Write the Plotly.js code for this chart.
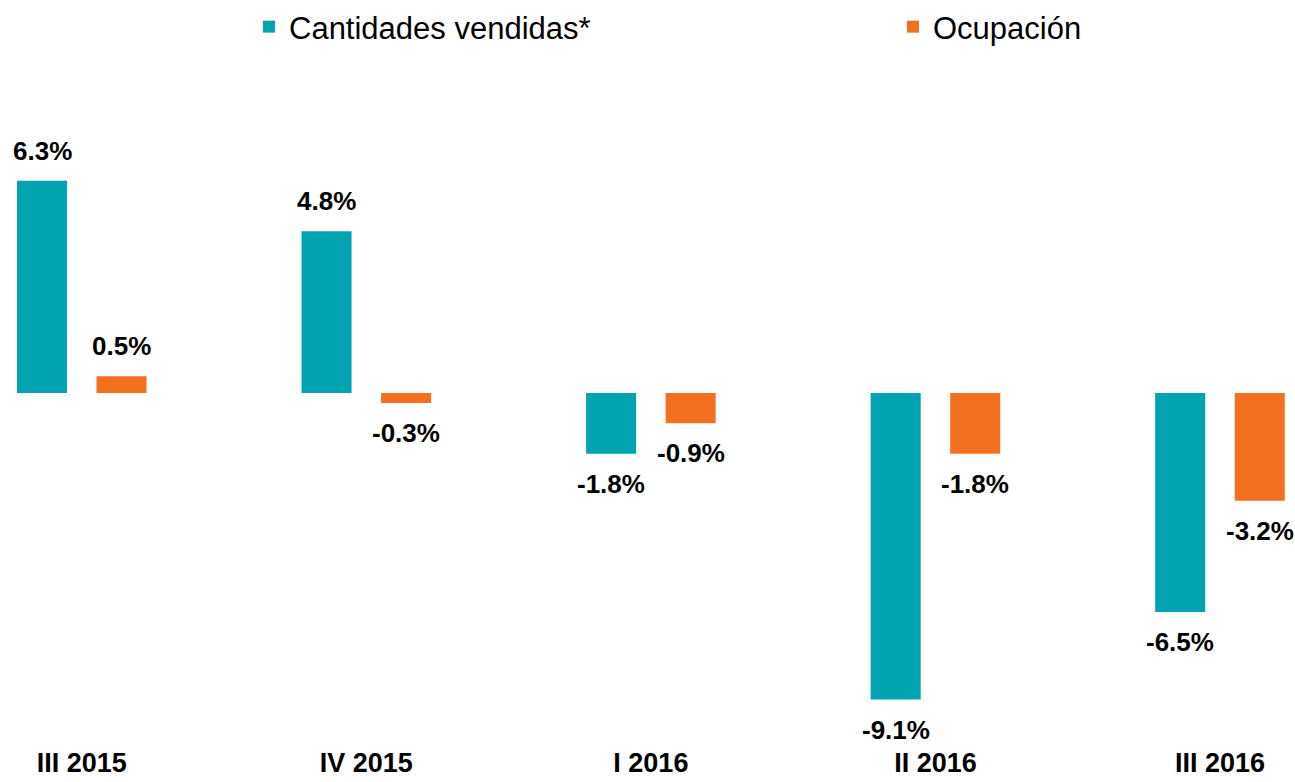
<!DOCTYPE html>
<html>
<head>
<meta charset="utf-8">
<script src="https://cdn.plot.ly/plotly-3.0.1.min.js"></script>
<style>html,body{margin:0;padding:0;background:#fff;}#chart{width:1295px;height:782px;}</style>
</head>
<body>
<div id="chart"></div>
<script>
var categories = ['III 2015', 'IV 2015', 'I 2016', 'II 2016', 'III 2016'];
var cantidadesVendidas = [6.3, 4.8, -1.8, -9.1, -6.5];
var ocupacion = [0.5, -0.3, -0.9, -1.8, -3.2];
var seriesNames = ['Cantidades vendidas*', 'Ocupación'];

var FONT = "'Liberation Sans', Arial, sans-serif";
var TEAL = '#00A3AF';
var ORANGE = '#F37021';

var traces = [
  {type: 'bar', name: seriesNames[0], x: categories, y: cantidadesVendidas,
   marker: {color: TEAL}, hoverinfo: 'skip', legend: 'legend'},
  {type: 'bar', name: seriesNames[1], x: categories, y: ocupacion,
   marker: {color: ORANGE}, hoverinfo: 'skip', legend: 'legend2'}
];

function fmt(v) { return v.toFixed(1) + '%'; }
var annotations = [];
[cantidadesVendidas, ocupacion].forEach(function (vals, s) {
  vals.forEach(function (v, i) {
    annotations.push({
      x: categories[i], y: v, xref: 'x', yref: 'y',
      text: '<b>' + fmt(v) + '</b>', showarrow: false,
      xshift: s === 0 ? -39.75 : 39.75,
      yshift: v >= 0 ? 30 : -30,
      yanchor: 'middle', xanchor: 'center',
      font: {family: FONT, size: 26, color: '#000'}
    });
  });
});

var legendBase = {
  orientation: 'h', xref: 'container', yref: 'container',
  y: 1, xanchor: 'left', yanchor: 'top',
  font: {family: FONT, size: 31, color: '#000'},
  bgcolor: 'rgba(0,0,0,0)'
};
var legend1 = Object.assign({}, legendBase, {x: 249 / 1295});
var legend2 = Object.assign({}, legendBase, {x: 893 / 1295});

var layout = {
  width: 1295, height: 782,
  margin: {l: 0, r: 0, t: 110, b: 42, pad: 0},
  paper_bgcolor: '#fff', plot_bgcolor: '#fff',
  barmode: 'group', bargap: 0.441, bargroupgap: 0.371,
  font: {family: FONT, color: '#000'},
  xaxis: {
    type: 'category', range: [-0.2873, 4.2636],
    showgrid: false, zeroline: false, showline: false, ticks: '',
    ticklabelstandoff: 4,
    tickfont: {family: FONT, size: 27, color: '#000', weight: 'bold'},
    fixedrange: true
  },
  yaxis: {
    range: [-10.30, 8.40], visible: false, showgrid: false, zeroline: false,
    fixedrange: true
  },
  showlegend: true,
  legend: legend1,
  legend2: legend2,
  annotations: annotations
};

Plotly.newPlot('chart', traces, layout, {displayModeBar: false, staticPlot: true});
</script>
</body>
</html>
